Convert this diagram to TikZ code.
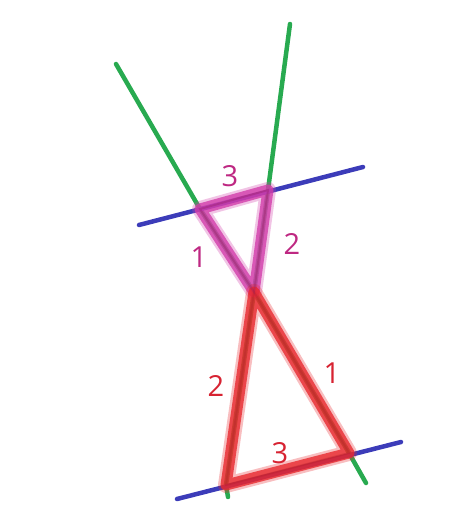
\documentclass[tikz,border=0pt]{standalone}
\usepackage{fontspec}
\setmainfont{Open Sans}
\usetikzlibrary{calc}
\definecolor{lgreen}{RGB}{40,170,80}
\definecolor{lblue}{RGB}{60,60,185}
\definecolor{lmag}{RGB}{210,60,170}
\definecolor{lred}{RGB}{232,40,45}
\definecolor{tmag}{RGB}{190,40,130}
\definecolor{tred}{RGB}{215,35,50}
\begin{document}
\begin{tikzpicture}[x=1pt,y=-1pt,
  gline/.style={draw=lgreen,line width=4.5pt,line cap=round},
  bline/.style={draw=lblue,line width=4.5pt,line cap=round},
  tri/.style={line width=11pt,line join=round,line cap=round,opacity=.8},
  trihalo/.style={line width=16pt,line join=round,line cap=round,opacity=.3},
  num/.style={font=\fontsize{29}{29}\selectfont}]
\useasboundingbox (0,0) rectangle (474,516);
% points
\coordinate (Ga) at (116,64);\coordinate (Gb) at (366,483);
\coordinate (Gc) at (290,24);\coordinate (Gd) at (228,497);
\coordinate (Ba) at (139,225);\coordinate (Bb) at (363,167);
\coordinate (Bc) at (177,499);\coordinate (Bd) at (401,442);
\coordinate (P) at (200,209);\coordinate (Q) at (268,190);
\coordinate (O) at (254,292);
\coordinate (R) at (226,485);\coordinate (S) at (349,453);
% lines
\draw[gline] (Ga)--(P)--(O)--(S)--(Gb);
\draw[gline] (Gc)--(Q)--(O)--(R)--(Gd);
\draw[bline] (Ba)--(Bb);\draw[bline] (Bc)--(Bd);
% triangles
\draw[trihalo,lmag] (P)--(Q)--(O)--cycle;
\draw[tri,lmag] (P)--(Q)--(O)--cycle;
\draw[trihalo,lred] (O)--(R)--(S)--cycle;
\draw[tri,lred] (O)--(R)--(S)--cycle;
\draw[line width=2pt,tmag!80!black,opacity=.4] (P)--(Q)--(O)--cycle;
\draw[line width=2pt,tred!80!black,opacity=.3] (O)--(R)--(S)--cycle;
% labels
\node[num,tmag] (m3) at (230,176){3};
\node[num,tmag] (m1) at (199,257){1};
\node[num,tmag] (m2) at (292,244){2};
\node[num,tred] (r2) at (216,386){2};
\node[num,tred] (r1) at (332,373){1};
\node[num,tred] (r3) at (280,453){3};
\end{tikzpicture}
\end{document}
